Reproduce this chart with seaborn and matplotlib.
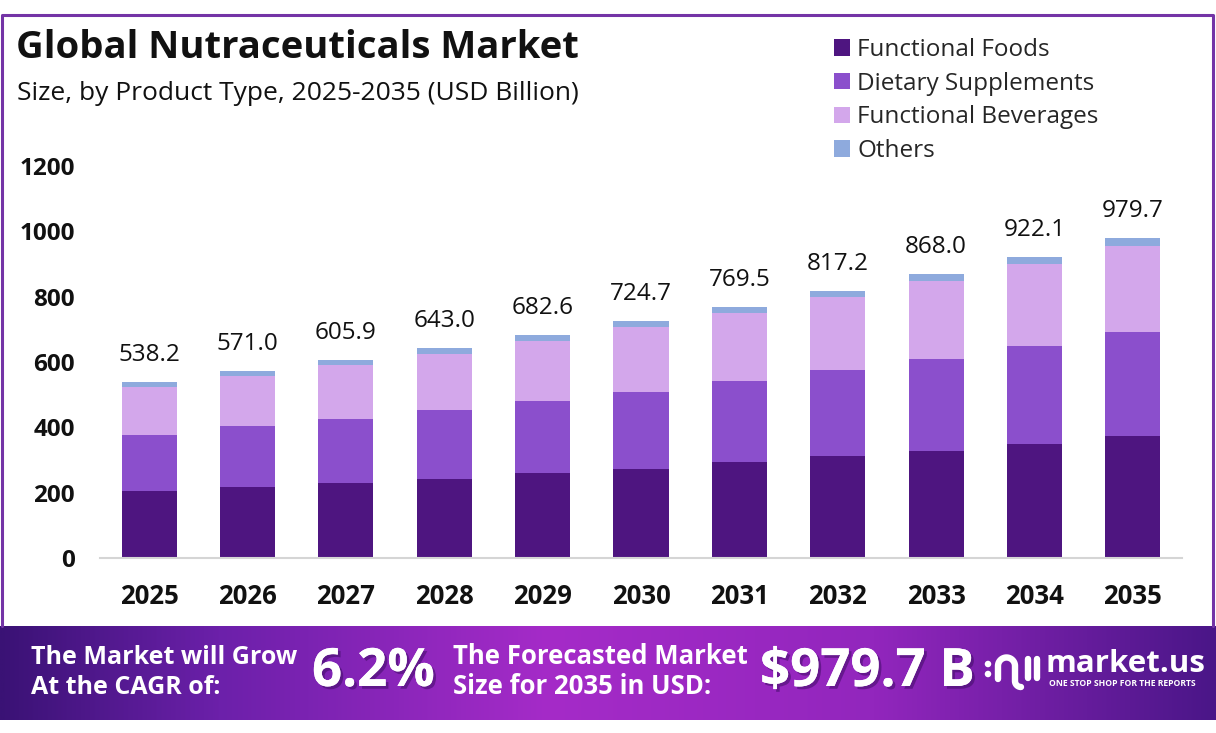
import numpy as np
import pandas as pd
import matplotlib
matplotlib.use("Agg")
import matplotlib.pyplot as plt
import seaborn as sns
from matplotlib.patches import Patch
from matplotlib.lines import Line2D
from matplotlib.colors import LinearSegmentedColormap
import matplotlib.patheffects as pe

# ---------------- data ----------------
years = ["2025", "2026", "2027", "2028", "2029", "2030", "2031", "2032", "2033", "2034", "2035"]
functional_foods = [204, 216, 230, 243, 260, 273, 293, 311, 328, 350, 372]
dietary_supplements = [173, 187, 197, 209, 222, 236, 250, 265, 282, 300, 319]
functional_beverages = [146, 153, 163, 173, 183, 197, 207, 223, 237, 250, 263]
others = [15.2, 15.0, 15.9, 18.0, 17.6, 18.7, 19.5, 18.2, 21.0, 22.1, 25.7]
totals = [538.2, 571.0, 605.9, 643.0, 682.6, 724.7, 769.5, 817.2, 868.0, 922.1, 979.7]
segments = ["Functional Foods", "Dietary Supplements", "Functional Beverages", "Others"]
colors = ["#4e1580", "#8b4fcc", "#d3a7eb", "#8eaadd"]
y_ticks = [0, 200, 400, 600, 800, 1000, 1200]
cagr_text = "6.2%"
forecast_text = "$979.7 B"

sns.set_theme(style="white")
FONT = ["Open Sans", "DejaVu Sans"]
plt.rcParams["font.family"] = FONT

W, H = 1216, 733
fig = plt.figure(figsize=(W / 100, H / 100), dpi=100)
fig.patch.set_facecolor("white")

def fx(px):
    return px / W

def fy(py):
    return 1 - py / H

# ---------------- main axes ----------------
ax = fig.add_axes([fx(100), fy(558), 1082 / W, 392 / H])

df = pd.DataFrame({
    "Year": years,
    "Functional Foods": functional_foods,
    "Dietary Supplements": dietary_supplements,
    "Functional Beverages": functional_beverages,
    "Others": others,
})
cum = df[segments].cumsum(axis=1)

# draw tallest cumulative layer first so shorter ones sit on top
for seg, col in reversed(list(zip(segments, colors))):
    sns.barplot(x=df["Year"], y=cum[seg], color=col, saturation=1, width=0.56,
                ax=ax, edgecolor="none", linewidth=0)

for i, t in enumerate(totals):
    ax.annotate(f"{t:.1f}", xy=(i, t), xytext=(0, 15), textcoords="offset pixels",
                ha="center", va="bottom", fontsize=17.5, color="#111111")

ax.set_ylim(0, 1200)
ax.set_xlim(-0.5, len(years) - 0.5)
ax.set_yticks(y_ticks)
ax.set_yticklabels([str(v) for v in y_ticks], fontsize=17.5, fontweight="bold", color="#111111")
ax.set_xticks(range(len(years)))
ax.set_xticklabels(years, fontsize=18.5, fontweight="bold", color="#111111")
ax.tick_params(axis="y", length=0, pad=18)
ax.tick_params(axis="x", length=0, pad=18)
ax.set_xlabel("")
ax.set_ylabel("")
for s in ["top", "right", "left"]:
    ax.spines[s].set_visible(False)
ax.spines["bottom"].set_color("#d5d5d5")
ax.spines["bottom"].set_linewidth(1.5)
ax.grid(False)
ax.set_facecolor("none")

# ---------------- frame ----------------
frame = Line2D([fx(1.5), fx(1.5), fx(1213), fx(1213)], [fy(626), fy(15), fy(15), fy(626)],
               transform=fig.transFigure, color="#7434a6", linewidth=2.2)
fig.lines.append(frame)

# ---------------- titles ----------------
fig.text(fx(16), fy(48), "Global Nutraceuticals Market", fontsize=27.5, fontweight="bold",
         color="#111111", va="center", ha="left")
fig.text(fx(17), fy(93), "Size, by Product Type, 2025-2035 (USD Billion)", fontsize=19,
         color="#111111", va="center", ha="left")

# ---------------- legend ----------------
handles = [Patch(facecolor=c, edgecolor="none") for c in colors]
fig.legend(handles, segments, loc="upper left", bbox_to_anchor=(fx(834), fy(38)),
           frameon=False, fontsize=17.5, handlelength=0.66, handleheight=0.66,
           handletextpad=0.3, labelspacing=0.4, borderaxespad=0, borderpad=0)

# ---------------- bottom banner ----------------
bax = fig.add_axes([0, fy(720), 1, 94 / H])
cmap = LinearSegmentedColormap.from_list(
    "banner", [(0.0, "#3a1275"), (0.18, "#6c20aa"), (0.45, "#a52bc8"),
               (0.72, "#9226bd"), (1.0, "#4a1688")])
grad = np.linspace(0, 1, 512).reshape(1, -1)
bax.imshow(grad, aspect="auto", cmap=cmap, extent=[0, 1, 0, 1])
bax.set_xlim(0, 1)
bax.set_ylim(0, 1)
bax.set_axis_off()

shadow = [pe.withSimplePatchShadow(offset=(2, -2), shadow_rgbFace="#3a0a60", alpha=0.5), pe.Normal()]
fig.text(fx(31), fy(657), "The Market will Grow", fontsize=18, fontweight="bold", color="white",
         va="center", ha="left")
fig.text(fx(31), fy(687), "At the CAGR of:", fontsize=18, fontweight="bold", color="white",
         va="center", ha="left")
fig.text(fx(312), fy(672), cagr_text, fontsize=38, fontweight="bold", color="white",
         va="center", ha="left", path_effects=shadow)
fig.text(fx(453), fy(657), "The Forecasted Market", fontsize=18.5, fontweight="bold", color="white",
         va="center", ha="left")
fig.text(fx(453), fy(687), "Size for 2035 in USD:", fontsize=18.5, fontweight="bold", color="white",
         va="center", ha="left")
fig.text(fx(760), fy(672), forecast_text, fontsize=38, fontweight="bold", color="white",
         va="center", ha="left", path_effects=shadow)

# logo mark (decorative), drawn in pixel units with y downward
lax = fig.add_axes([fx(978), fy(698), 66 / W, 50 / H])
lax.set_xlim(978, 1044)
lax.set_ylim(698, 648)
lax.set_axis_off()
lw_logo = 4.6
lax.scatter([988, 988], [664, 674], s=22, color="white", edgecolor="none")
a = np.linspace(np.pi, 2 * np.pi, 40)
arch_x = np.concatenate([[998, 998], 1006.5 + 8.5 * np.cos(a), [1015, 1015]])
arch_y = np.concatenate([[679, 666], 666 + 8.5 * np.sin(a), [666, 681]])
c = np.linspace(np.pi, np.pi / 2, 20)
curl_x = 1021 + 6 * np.cos(c)
curl_y = 681 + 6 * np.sin(c)
lax.plot(np.concatenate([arch_x, curl_x]), np.concatenate([arch_y, curl_y]), color="white",
         lw=lw_logo, solid_capstyle="round", solid_joinstyle="round")
for xx in [1028, 1037]:
    lax.plot([xx, xx], [659, 678], color="white", lw=lw_logo, solid_capstyle="round")
fig.text(fx(1046), fy(664), "market.us", fontsize=22.5, fontweight="bold", color="white",
         va="center", ha="left")
fig.text(fx(1049), fy(684), "ONE STOP SHOP FOR THE REPORTS", fontsize=6.2, fontweight="bold",
         color="white", va="center", ha="left")

fig.savefig("out.png", dpi=100, facecolor="white")
